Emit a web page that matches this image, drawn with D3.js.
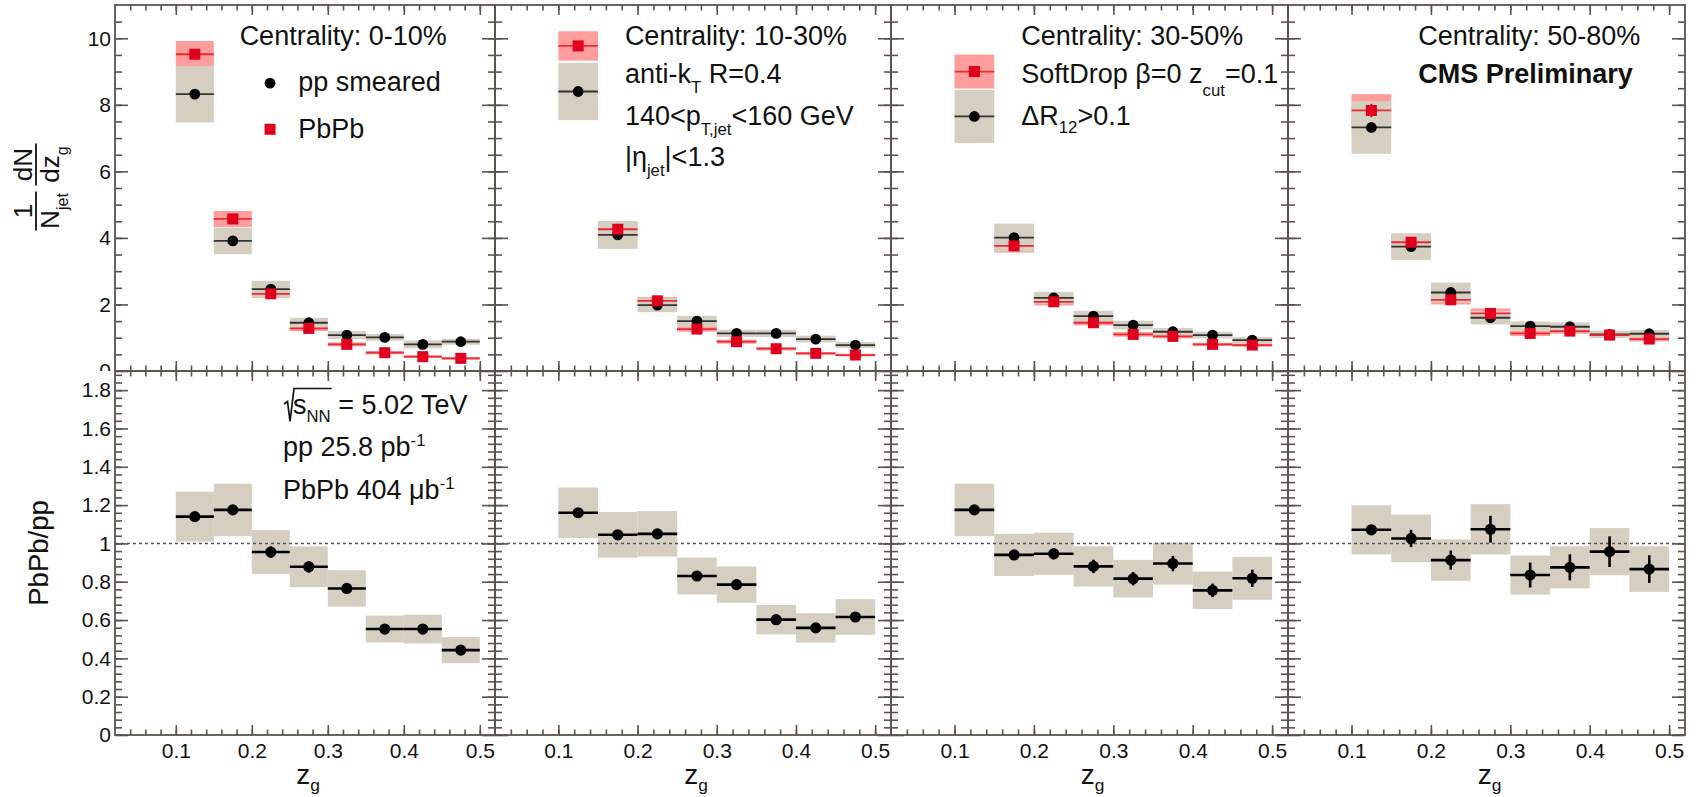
<!DOCTYPE html>
<html>
<head>
<meta charset="utf-8">
<script src="https://cdn.jsdelivr.net/npm/d3@7"></script>
<style>
  html, body { margin: 0; padding: 0; background: #fff; }
  svg { display: block; font-family: "Liberation Sans", Arial, Helvetica, sans-serif; }
  text { white-space: pre; }
</style>
</head>
<body>
<svg id="chart" width="1696" height="797"></svg>
<script>
// ---- z_g binning and centrality classes ----
const binEdges = [0.10, 0.15, 0.20, 0.25, 0.30, 0.35, 0.40, 0.45, 0.50];
const centralityLabels = ["0-10%", "10-30%", "30-50%", "50-80%"];

// ---- 1/N_jet dN/dz_g : pp smeared reference (one row per centrality) ----
const ppSmeared = [
  [8.32, 3.91, 2.46, 1.45, 1.08, 1.01, 0.80, 0.88],
  [8.40, 4.09, 1.98, 1.50, 1.13, 1.13, 0.96, 0.78],
  [7.65, 4.01, 2.20, 1.65, 1.38, 1.18, 1.08, 0.93],
  [7.32, 3.74, 2.36, 1.60, 1.35, 1.33, 1.10, 1.12]
];
const ppStat = [
  [0.08, 0.05, 0.03, 0.02, 0.02, 0.02, 0.02, 0.02],
  [0.08, 0.05, 0.03, 0.02, 0.02, 0.02, 0.02, 0.02],
  [0.08, 0.05, 0.03, 0.02, 0.02, 0.02, 0.02, 0.02],
  [0.08, 0.05, 0.03, 0.02, 0.02, 0.02, 0.02, 0.02]
];
const ppSys = [
  [0.85, 0.40, 0.25, 0.15, 0.12, 0.10, 0.12, 0.09],
  [0.86, 0.42, 0.21, 0.16, 0.11, 0.11, 0.10, 0.09],
  [0.80, 0.42, 0.18, 0.16, 0.13, 0.11, 0.10, 0.09],
  [0.79, 0.40, 0.30, 0.20, 0.14, 0.13, 0.11, 0.11]
];

// ---- 1/N_jet dN/dz_g : PbPb ----
const pbpb = [
  [9.52, 4.57, 2.32, 1.28, 0.80, 0.55, 0.43, 0.38],
  [9.77, 4.26, 2.11, 1.26, 0.88, 0.67, 0.53, 0.48],
  [9.00, 3.76, 2.08, 1.45, 1.10, 1.04, 0.80, 0.78],
  [7.83, 3.87, 2.14, 1.73, 1.13, 1.20, 1.08, 0.96]
];
const pbpbStat = [
  [0.12, 0.07, 0.05, 0.04, 0.03, 0.03, 0.03, 0.03],
  [0.12, 0.07, 0.05, 0.04, 0.03, 0.03, 0.03, 0.03],
  [0.15, 0.08, 0.06, 0.05, 0.04, 0.04, 0.04, 0.04],
  [0.20, 0.12, 0.08, 0.07, 0.05, 0.05, 0.05, 0.05]
];
const pbpbSys = [
  [0.40, 0.24, 0.12, 0.08, 0.06, 0.05, 0.04, 0.04],
  [0.44, 0.22, 0.11, 0.08, 0.06, 0.05, 0.04, 0.04],
  [0.51, 0.20, 0.11, 0.08, 0.07, 0.06, 0.05, 0.05],
  [0.49, 0.22, 0.14, 0.15, 0.08, 0.08, 0.07, 0.07]
];

// ---- PbPb / pp ratio ----
const ratio = [
  [1.140, 1.175, 0.955, 0.878, 0.765, 0.553, 0.553, 0.443],
  [1.160, 1.045, 1.050, 0.830, 0.785, 0.602, 0.559, 0.616],
  [1.175, 0.940, 0.946, 0.880, 0.816, 0.895, 0.755, 0.818],
  [1.071, 1.026, 0.913, 1.074, 0.835, 0.875, 0.957, 0.866]
];
const ratioStat = [
  [0.010, 0.020, 0.030, 0.030, 0.020, 0.010, 0.010, 0.010],
  [0.010, 0.010, 0.020, 0.020, 0.025, 0.010, 0.010, 0.015],
  [0.010, 0.020, 0.030, 0.035, 0.035, 0.040, 0.035, 0.045],
  [0.020, 0.045, 0.050, 0.070, 0.065, 0.068, 0.080, 0.072]
];
const ratioSys = [
  [0.130, 0.137, 0.115, 0.106, 0.095, 0.070, 0.075, 0.068],
  [0.132, 0.119, 0.119, 0.096, 0.095, 0.077, 0.077, 0.093],
  [0.137, 0.110, 0.110, 0.105, 0.098, 0.110, 0.098, 0.112],
  [0.128, 0.124, 0.108, 0.131, 0.102, 0.110, 0.123, 0.119]
];

// ---- axis ticks ----
const xTicksMajor = [0.1, 0.2, 0.3, 0.4, 0.5];
const xTicksMinor = d3.range(2, 26).map(i => i * 0.02);
const topTicksMajor = [0, 2, 4, 6, 8, 10];
const topTicksMinor = d3.range(1, 22).map(i => i * 0.5);
const ratioTicksMajor = d3.range(0, 10).map(i => i * 0.2);
const ratioTicksMinor = d3.range(1, 48).map(i => i * 0.04);

// ---- layout ----
const panelLeft  = [115, 495, 891, 1288];
const panelRight = [495, 891, 1288, 1685];
const topPad   = { y0: 5,   y1: 371 };
const ratioPad = { y0: 371, y1: 735 };

const FRAME = "#5b544c";
const GRAY_BAND = "#d6cec1";
const PINK_BAND = "#ff9c9c";
const RED = "#e0001e";
const RED_LINE = "#ec2a30";
const TEXT = "#111";
const FS = 27;          // annotation font size
const TICK_FS = 21;     // tick label font size

const svg = d3.select("#chart");

const yTop = d3.scaleLinear([0, 11], [topPad.y1, topPad.y0]);
const yRat = d3.scaleLinear([0, 1.9], [ratioPad.y1, ratioPad.y0]);

// clip for the top pad (its "0" label is cut by the ratio pad)
svg.append("defs").append("clipPath").attr("id", "topClip")
  .append("rect").attr("x", 0).attr("y", 0).attr("width", 1696).attr("height", topPad.y1);

// text helper with sub/superscripts: parts = [[string, kind, shift]]
function richText(g, x, y, parts, size, opts = {}) {
  const t = g.append("text")
    .attr("x", x).attr("y", y)
    .attr("font-size", size)
    .attr("fill", TEXT);
  if (opts.weight) t.attr("font-weight", opts.weight);
  if (opts.anchor) t.attr("text-anchor", opts.anchor);
  let cur = 0;
  parts.forEach(([str, kind, off]) => {
    const ts = t.append("tspan").text(str);
    let target = 0;
    if (kind === "sub") { ts.attr("font-size", size * 0.62); target = off ?? size * 0.34; }
    else if (kind === "sup") { ts.attr("font-size", size * 0.62); target = -(off ?? size * 0.36); }
    if (target - cur !== 0) ts.attr("dy", target - cur);
    cur = target;
  });
  return t;
}

function styleTicks(sel, width) {
  sel.attr("color", FRAME);
  sel.select(".domain").remove();
  sel.selectAll("line").attr("stroke-width", width);
}

centralityLabels.forEach((cent, p) => {
  const x = d3.scaleLinear([0.02, 0.52], [panelLeft[p], panelRight[p]]);
  const bins = d3.range(8).map(j => ({
    lo: binEdges[j], hi: binEdges[j + 1], mid: (binEdges[j] + binEdges[j + 1]) / 2,
    pp: ppSmeared[p][j], ppE: ppStat[p][j], ppS: ppSys[p][j],
    aa: pbpb[p][j], aaE: pbpbStat[p][j], aaS: pbpbSys[p][j],
    r: ratio[p][j], rE: ratioStat[p][j], rS: ratioSys[p][j]
  }));

  // ================= top pad: distributions =================
  const gt = svg.append("g");

  gt.selectAll(".pinkBand").data(bins).join("rect")
    .attr("x", d => x(d.lo)).attr("width", d => x(d.hi) - x(d.lo))
    .attr("y", d => yTop(d.aa + d.aaS)).attr("height", d => yTop(d.aa - d.aaS) - yTop(d.aa + d.aaS))
    .attr("fill", PINK_BAND);

  gt.selectAll(".grayBand").data(bins).join("rect")
    .attr("x", d => x(d.lo)).attr("width", d => x(d.hi) - x(d.lo))
    .attr("y", d => yTop(d.pp + d.ppS)).attr("height", d => yTop(d.pp - d.ppS) - yTop(d.pp + d.ppS))
    .attr("fill", GRAY_BAND);

  // pp smeared
  gt.selectAll(".ppH").data(bins).join("line")
    .attr("x1", d => x(d.lo)).attr("x2", d => x(d.hi))
    .attr("y1", d => yTop(d.pp)).attr("y2", d => yTop(d.pp))
    .attr("stroke", "#333").attr("stroke-width", 1.8);
  gt.selectAll(".ppV").data(bins).join("line")
    .attr("x1", d => x(d.mid)).attr("x2", d => x(d.mid))
    .attr("y1", d => yTop(d.pp + d.ppE)).attr("y2", d => yTop(d.pp - d.ppE))
    .attr("stroke", "#000").attr("stroke-width", 1.8);
  gt.selectAll(".ppM").data(bins).join("circle")
    .attr("cx", d => x(d.mid)).attr("cy", d => yTop(d.pp)).attr("r", 5.4)
    .attr("fill", "#000");

  // PbPb
  gt.selectAll(".aaH").data(bins).join("line")
    .attr("x1", d => x(d.lo)).attr("x2", d => x(d.hi))
    .attr("y1", d => yTop(d.aa)).attr("y2", d => yTop(d.aa))
    .attr("stroke", RED_LINE).attr("stroke-width", 1.8);
  gt.selectAll(".aaV").data(bins).join("line")
    .attr("x1", d => x(d.mid)).attr("x2", d => x(d.mid))
    .attr("y1", d => yTop(d.aa + d.aaE)).attr("y2", d => yTop(d.aa - d.aaE))
    .attr("stroke", RED).attr("stroke-width", 1.8);
  gt.selectAll(".aaM").data(bins).join("rect")
    .attr("x", d => x(d.mid) - 5.5).attr("y", d => yTop(d.aa) - 5.5)
    .attr("width", 11).attr("height", 11)
    .attr("fill", RED);

  // ================= ratio pad =================
  const gr = svg.append("g");
  gr.selectAll(".rBand").data(bins).join("rect")
    .attr("x", d => x(d.lo)).attr("width", d => x(d.hi) - x(d.lo))
    .attr("y", d => yRat(d.r + d.rS)).attr("height", d => yRat(d.r - d.rS) - yRat(d.r + d.rS))
    .attr("fill", GRAY_BAND);

  gr.append("line")
    .attr("x1", x(0.02)).attr("x2", x(0.52))
    .attr("y1", yRat(1)).attr("y2", yRat(1))
    .attr("stroke", "#555").attr("stroke-width", 1.5)
    .attr("stroke-dasharray", "3,3");

  gr.selectAll(".rH").data(bins).join("line")
    .attr("x1", d => x(d.lo)).attr("x2", d => x(d.hi))
    .attr("y1", d => yRat(d.r)).attr("y2", d => yRat(d.r))
    .attr("stroke", "#000").attr("stroke-width", 2.6);
  gr.selectAll(".rV").data(bins).join("line")
    .attr("x1", d => x(d.mid)).attr("x2", d => x(d.mid))
    .attr("y1", d => yRat(d.r + d.rE)).attr("y2", d => yRat(d.r - d.rE))
    .attr("stroke", "#000").attr("stroke-width", 2.6);
  gr.selectAll(".rM").data(bins).join("circle")
    .attr("cx", d => x(d.mid)).attr("cy", d => yRat(d.r)).attr("r", 5.6)
    .attr("fill", "#000");

  // ================= frames and ticks =================
  const ga = svg.append("g");
  [[topPad, yTop, topTicksMajor, topTicksMinor], [ratioPad, yRat, ratioTicksMajor, ratioTicksMinor]]
    .forEach(([pad, yS, maj, mnr]) => {
      // x ticks at bottom and top of the frame
      ga.append("g").attr("transform", `translate(0,${pad.y1})`)
        .call(d3.axisBottom(x).tickValues(xTicksMinor).tickSize(-5.5).tickSizeOuter(0).tickFormat(""))
        .call(s => styleTicks(s, 1.6));
      ga.append("g").attr("transform", `translate(0,${pad.y1})`)
        .call(d3.axisBottom(x).tickValues(xTicksMajor).tickSize(-10).tickSizeOuter(0).tickFormat(""))
        .call(s => styleTicks(s, 1.6));
      ga.append("g").attr("transform", `translate(0,${pad.y0})`)
        .call(d3.axisTop(x).tickValues(xTicksMinor).tickSize(-5.5).tickSizeOuter(0).tickFormat(""))
        .call(s => styleTicks(s, 1.6));
      ga.append("g").attr("transform", `translate(0,${pad.y0})`)
        .call(d3.axisTop(x).tickValues(xTicksMajor).tickSize(-10).tickSizeOuter(0).tickFormat(""))
        .call(s => styleTicks(s, 1.6));
      // y ticks on left and right of the frame
      ga.append("g").attr("transform", `translate(${panelLeft[p]},0)`)
        .call(d3.axisLeft(yS).tickValues(mnr).tickSize(-7).tickSizeOuter(0).tickFormat(""))
        .call(s => styleTicks(s, 1.6));
      ga.append("g").attr("transform", `translate(${panelLeft[p]},0)`)
        .call(d3.axisLeft(yS).tickValues(maj).tickSize(-13).tickSizeOuter(0).tickFormat(""))
        .call(s => styleTicks(s, 1.6));
      ga.append("g").attr("transform", `translate(${panelRight[p]},0)`)
        .call(d3.axisRight(yS).tickValues(mnr).tickSize(-7).tickSizeOuter(0).tickFormat(""))
        .call(s => styleTicks(s, 1.6));
      ga.append("g").attr("transform", `translate(${panelRight[p]},0)`)
        .call(d3.axisRight(yS).tickValues(maj).tickSize(-13).tickSizeOuter(0).tickFormat(""))
        .call(s => styleTicks(s, 1.6));
      ga.append("rect")
        .attr("x", panelLeft[p]).attr("y", pad.y0)
        .attr("width", panelRight[p] - panelLeft[p]).attr("height", pad.y1 - pad.y0)
        .attr("fill", "none").attr("stroke", FRAME).attr("stroke-width", 1.8);
    });

  // x tick labels under the ratio pad
  const xl = svg.append("g").attr("transform", `translate(0,${ratioPad.y1})`)
    .call(d3.axisBottom(x).tickValues(xTicksMajor).tickSize(0).tickPadding(8).tickFormat(d3.format(".1f")));
  xl.select(".domain").remove();
  xl.attr("font-size", TICK_FS).attr("font-family", null);
  xl.selectAll("text").attr("fill", TEXT);

  // x axis title
  richText(svg, (panelLeft[p] + panelRight[p]) / 2 + 3, 784, [["z"], ["g", "sub", 7]], 28, { anchor: "middle" });

  // y tick labels on the first column only
  if (p === 0) {
    const yl = svg.append("g").attr("clip-path", "url(#topClip)").append("g")
      .attr("transform", `translate(${panelLeft[p]},0)`)
      .call(d3.axisLeft(yTop).tickValues(topTicksMajor).tickSize(0).tickPadding(4).tickFormat(d3.format("d")));
    yl.select(".domain").remove();
    yl.attr("font-size", TICK_FS).attr("font-family", null);
    yl.selectAll("text").attr("fill", TEXT);

    const rl = svg.append("g")
      .attr("transform", `translate(${panelLeft[p]},0)`)
      .call(d3.axisLeft(yRat).tickValues(ratioTicksMajor).tickSize(0).tickPadding(4)
        .tickFormat(d => d === 0 ? "0" : d3.format("~g")(+d.toFixed(2))));
    rl.select(".domain").remove();
    rl.attr("font-size", TICK_FS).attr("font-family", null);
    rl.selectAll("text").attr("fill", TEXT);
  }

  // ================= annotations =================
  richText(svg, x(0.184), yTop(9.80), [["Centrality: " + cent]], FS);

  if (p === 0) {
    svg.append("circle").attr("cx", x(0.224)).attr("cy", yTop(8.65)).attr("r", 5.4).attr("fill", "#000");
    richText(svg, x(0.261), yTop(8.42), [["pp smeared"]], FS);
    svg.append("rect").attr("x", x(0.224) - 5.5).attr("y", yTop(7.264) - 5.5)
      .attr("width", 11).attr("height", 11).attr("fill", RED);
    richText(svg, x(0.261), yTop(7.0), [["PbPb"]], FS);

    // sqrt(s_NN) = 5.02 TeV
    const bx = x(0.2437), by = yRat(1.6755);
    const st = richText(svg, bx + 8, by, [["s"], ["NN", "sub", 8], [" = 5.02 TeV"]], FS);
    const w = st.node().getSubStringLength(0, 3);
    svg.append("path")
      .attr("d", `M${bx - 1},${by - 10} L${bx + 2.5},${by - 12.5} L${bx + 5},${by + 7.5} L${bx + 9},${by - 25.5} L${bx + 8 + w + 1},${by - 25.5}`)
      .attr("fill", "none").attr("stroke", TEXT).attr("stroke-width", 1.7);

    richText(svg, x(0.241), yRat(1.458), [["pp 25.8 pb"], ["-1", "sup", 10]], FS);
    richText(svg, x(0.241), yRat(1.230), [["PbPb 404 μb"], ["-1", "sup", 10]], FS);
  }
  if (p === 1) {
    richText(svg, x(0.184), yTop(8.65), [["anti-k"], ["T", "sub", 10], [" R=0.4"]], FS);
    richText(svg, x(0.184), yTop(7.39), [["140<p"], ["T,jet", "sub", 10], ["<160 GeV"]], FS);
    richText(svg, x(0.184), yTop(6.17), [["|η"], ["jet", "sub", 10], ["|<1.3"]], FS);
  }
  if (p === 2) {
    richText(svg, x(0.184), yTop(8.65), [["SoftDrop β=0 z"], ["cut", "sub", 13], ["=0.1"]], FS);
    richText(svg, x(0.184), yTop(7.39), [["ΔR"], ["12", "sub", 8], [">0.1"]], FS);
  }
  if (p === 3) {
    richText(svg, x(0.184), yTop(8.65), [["CMS Preliminary"]], FS, { weight: "bold" });
  }
});

// ---- y axis titles ----
richText(svg.append("g").attr("transform", `translate(48,${yRat(0.95)}) rotate(-90)`),
  0, 0, [["PbPb/pp"]], 27.5, { anchor: "middle" });

const yt = svg.append("g").attr("transform", "translate(36,187) rotate(-90)");
const fracs = [
  { u: -24, half: 19.5, num: [["1"]], den: [["N"], ["jet", "sub", 9]] },
  { u: 22.5, half: 21, num: [["dN"]], den: [["dz"], ["g", "sub", 9]] }
];
fracs.forEach(f => {
  richText(yt, f.u, -4, f.num, 26, { anchor: "middle" });
  richText(yt, f.u, 22.5, f.den, 26, { anchor: "middle" });
  yt.append("line").attr("x1", f.u - f.half).attr("x2", f.u + f.half)
    .attr("y1", 0).attr("y2", 0).attr("stroke", TEXT).attr("stroke-width", 1.8);
});
</script>
</body>
</html>
